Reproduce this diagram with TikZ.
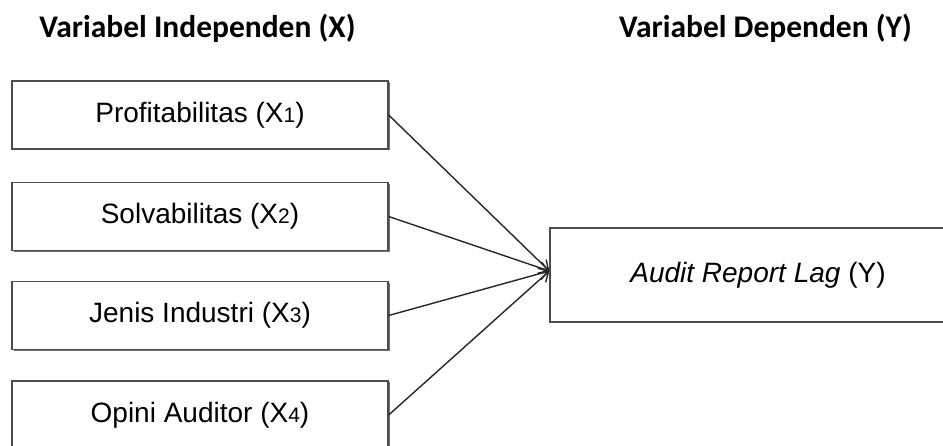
\documentclass[tikz,border=0pt]{standalone}
\usepackage{fontspec}
\setmainfont{Liberation Sans}
\newfontfamily\titlefont{Carlito}
\usetikzlibrary{arrows.meta,shadows}
\newcommand{\subdigit}[1]{{\fontsize{21}{21}\selectfont #1}}
\begin{document}
\begin{tikzpicture}[x=1pt,y=-1pt,
  varbox/.style={draw=black!70, line width=1.3pt, fill=white,
    minimum width=376pt, minimum height=68pt, inner sep=0pt,
    font=\fontsize{28}{34}\selectfont,
    drop shadow={shadow xshift=1.5pt, shadow yshift=-1.5pt, opacity=1, fill=black!55}},
  title/.style={font=\titlefont\bfseries\fontsize{31.5}{36}\selectfont, anchor=base},
  link/.style={draw=black!85, line width=1.4pt, -{Straight Barb[length=9pt,width=12pt]}}]
\useasboundingbox (0,0) rectangle (943,446);
\node[title] (tx) at (197.5,38) {Variabel Independen (X)};
\node[title] (ty) at (765.5,38) {Variabel Dependen (Y)};
\node[varbox] (x1) at (200,115) {Profitabilitas (X\subdigit{1})};
\node[varbox] (x2) at (200,216.5) {Solvabilitas (X\subdigit{2})};
\node[varbox] (x3) at (200,315.5) {Jenis Industri (X\subdigit{3})};
\node[varbox] (x4) at (200,415) {Opini Auditor (X\subdigit{4})};
\node[varbox, minimum width=416pt, minimum height=94pt] (y) at (758,275) {\textit{Audit Report Lag} (Y)};
\coordinate (tip) at ([yshift=4pt]y.west);
\draw[link] (x1.east) -- (tip);
\draw[link] (x2.east) -- (tip);
\draw[link] (x3.east) -- (tip);
\draw[link] (x4.east) -- (tip);
\end{tikzpicture}
\end{document}
